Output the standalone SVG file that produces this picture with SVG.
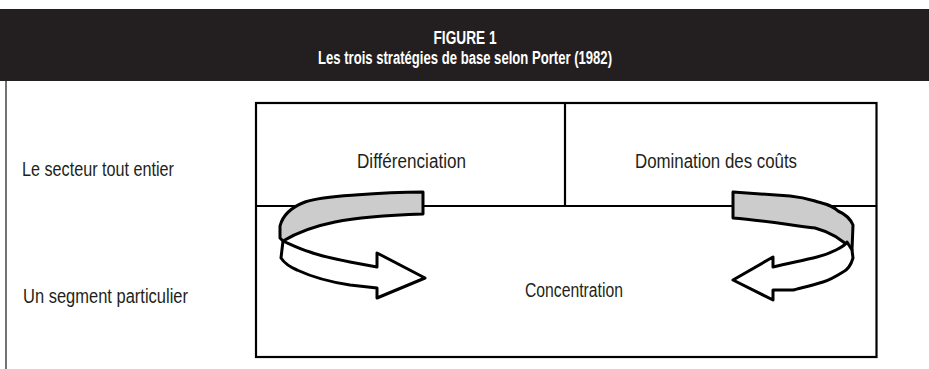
<svg xmlns="http://www.w3.org/2000/svg" width="929" height="369" viewBox="0 0 929 369">
<style>
.hdr{font-family:"Liberation Sans",Arial,sans-serif;font-weight:bold;font-size:18px;fill:#ffffff;text-anchor:middle}
.lbl{font-family:"Liberation Sans",Arial,sans-serif;font-size:20px;fill:#231f20}
.box{fill:none;stroke:#000;stroke-width:2.2}
.arr{stroke:#000;stroke-width:3;stroke-linejoin:round}
.gray{fill:#cccccc}
.white{fill:#ffffff}
</style>
<rect x="0" y="0" width="929" height="369" fill="#ffffff"/>
<g id="header">
<rect x="0" y="9" width="929" height="72" fill="#231f20"/>
<text class="hdr" x="465" y="44" textLength="63" lengthAdjust="spacingAndGlyphs">FIGURE 1</text>
<text class="hdr" x="465" y="64" textLength="294" lengthAdjust="spacingAndGlyphs">Les trois stratégies de base selon Porter (1982)</text>
</g>
<line x1="6" y1="81" x2="6" y2="369" stroke="#444" stroke-width="1.5"/>
<g id="row-labels">
<text class="lbl" x="22" y="176" textLength="152" lengthAdjust="spacingAndGlyphs">Le secteur tout entier</text>
<text class="lbl" x="23" y="303" textLength="165" lengthAdjust="spacingAndGlyphs">Un segment particulier</text>
</g>
<g id="matrix">
<rect class="box" x="256" y="103" width="620.5" height="254"/>
<line class="box" x1="256" y1="206" x2="876.5" y2="206"/>
<line class="box" x1="565" y1="103" x2="565" y2="206"/>
</g>
<g id="differenciation">
<text class="lbl" x="357" y="168" textLength="109" lengthAdjust="spacingAndGlyphs">Différenciation</text>
</g>
<g id="domination">
<text class="lbl" x="635" y="168" textLength="162" lengthAdjust="spacingAndGlyphs">Domination des coûts</text>
</g>
<g id="concentration">
<text class="lbl" x="525" y="297" textLength="98" lengthAdjust="spacingAndGlyphs">Concentration</text>
</g>
<g id="connectors">
<g id="arrow-left">
<path class="arr gray" d="M423,192 L423,214 C395,215 360,217 335,222 C315,226 298,232 283,241 L280,238 L280,226 C283,214 292,207 305,202 C320,197 340,196 355,195 C380,193 405,192 423,192 Z"/>
<path class="arr white" d="M283,241 L281,258 C285,264 290,267 297,270 C310,276 330,282 350,285 L377,288 L377,298 L425,278 L377,253 L377,267 L350,262 C335,259 320,256 310,252 C300,249 292,245 283,241 Z"/>
</g>
<g id="arrow-right">
<path class="arr gray" d="M733,192 L733,218 C760,220 790,225 815,228 C830,232 843,240 852,250 L853,225 C850,218 845,214 838,211 C832,205 825,204 815,201 C805,198 800,197 790,196 Z"/>
<path class="arr white" d="M852,250 L853,258 C851,265 847,270 843,272 C835,277 830,280 823,282 C810,286 800,288 793,290 L773,290 L773,300 L733,280 L773,257 L773,267 C790,263 805,260 817,257 C825,255 830,253 836,250 C842,247 846,244 847,242 Z"/>
</g>
</g>
</svg>
